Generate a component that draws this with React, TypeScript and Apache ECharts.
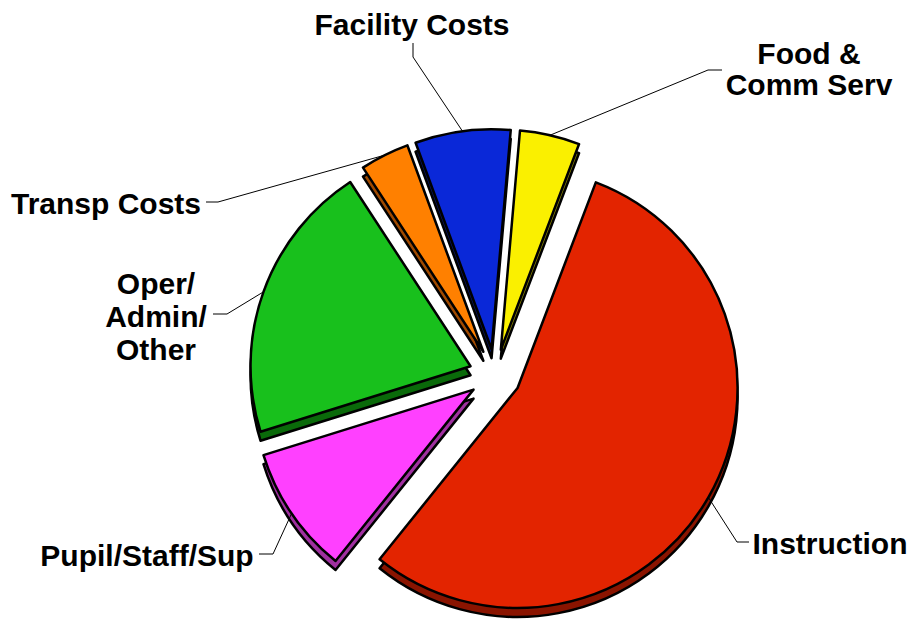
import React, { useEffect, useRef } from "react";
import * as echarts from "echarts";

// Clockwise from the top
const categories = [
  "Food & Comm Serv",
  "Instruction",
  "Pupil/Staff/Sup",
  "Oper/Admin/Other",
  "Transp Costs",
  "Facility Costs",
];
const labelTexts = [
  "Food &\nComm Serv",
  "Instruction",
  "Pupil/Staff/Sup",
  "Oper/\nAdmin/\nOther",
  "Transp Costs",
  "Facility Costs",
];
const values = [4.4, 55.0, 9.4, 20.6, 3.6, 7.0];

const topColors = ["#FAF000", "#E32400", "#FF40FF", "#18C01C", "#FF8000", "#0A28D8"];
const sideColors = ["#8C8600", "#8A1400", "#A030A0", "#0A6A0A", "#A04A00", "#061870"];

// label placement (styling)
const labelSpots = [
  { x: 809, y: 69, lh: 31, elbow: [708, 70], end: [722, 70] },
  { x: 830, y: 543, lh: 33, elbow: [737, 542], end: [749, 542] },
  { x: 147, y: 555, lh: 33, elbow: [273, 554], end: [259, 554] },
  { x: 156, y: 316, lh: 33, elbow: [227, 314], end: [213, 314] },
  { x: 106, y: 203, lh: 33, elbow: [218, 202], end: [206, 202] },
  { x: 412, y: 24, lh: 33, elbow: [413, 57], end: [413, 43] },
];

const CX = 495;
const CY = 375;
const R = 220;
const EXPLODE = 26;
const DEPTH = 9;
const START = 85;

export default function App() {
  const ref = useRef<HTMLDivElement>(null);
  useEffect(() => {
    if (!ref.current) return;
    const chart = echarts.init(ref.current, null, { renderer: "svg" });
    const topData = categories.map((c, i) => ({
      name: c,
      value: values[i],
      selected: true,
      itemStyle: { color: topColors[i] },
    }));
    const sideData = categories.map((c, i) => ({
      name: c,
      value: values[i],
      selected: true,
      itemStyle: { color: sideColors[i] },
    }));
    const labelData = categories.map((c, i) => ({
      name: c,
      value: values[i],
      label: { formatter: labelTexts[i], lineHeight: labelSpots[i].lh },
    }));
    const common = {
      type: "pie",
      radius: R,
      startAngle: START,
      clockwise: true,
      selectedMode: "multiple",
      selectedOffset: EXPLODE,
      label: { show: false },
      labelLine: { show: false },
      itemStyle: { borderColor: "#000000", borderWidth: 2.5 },
      select: { itemStyle: { borderColor: "#000000", borderWidth: 2.5 } },
    };
    chart.setOption({
      animation: false,
      backgroundColor: "#ffffff",
      series: [
        { ...common, z: 1, silent: true, center: [CX, CY + DEPTH], data: sideData },
        { ...common, z: 2, silent: true, center: [CX, CY], data: topData },
        {
          type: "pie",
          z: 3,
          silent: true,
          center: [CX, CY],
          radius: R + EXPLODE,
          startAngle: START,
          clockwise: true,
          avoidLabelOverlap: false,
          itemStyle: { color: "rgba(0,0,0,0)", borderWidth: 0 },
          emphasis: { disabled: true },
          label: {
            show: true,
            position: "outside",
            color: "#000000",
            fontFamily: "Liberation Sans, Arial, sans-serif",
            fontWeight: "bold",
            fontSize: 30,
            align: "center",
          },
          labelLine: {
            show: true,
            lineStyle: { color: "#000000", width: 1 },
          },
          labelLayout: (params: any) => {
            const s = labelSpots[params.dataIndex];
            const pts = params.labelLinePoints;
            const out: any = {
              x: s.x,
              y: s.y,
              align: "center",
              verticalAlign: "middle",
            };
            if (pts && pts[0]) {
              out.labelLinePoints = [pts[0], s.elbow, s.end];
            }
            return out;
          },
          data: labelData,
        },
      ],
    });
    return () => chart.dispose();
  }, []);
  return (
    <div
      ref={ref}
      style={{ position: "fixed", left: 0, top: 0, width: 912, height: 620 }}
    />
  );
}
